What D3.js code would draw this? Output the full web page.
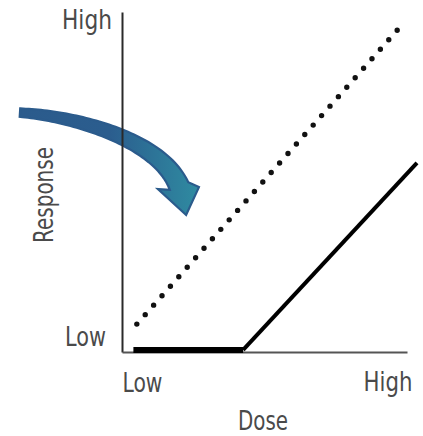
<!DOCTYPE html>
<html><head><meta charset="utf-8">
<script src="https://cdn.jsdelivr.net/npm/d3@7"></script>
<style>body{margin:0;background:#fff;overflow:hidden}</style>
</head><body><script>
// ---- data ----
const axisTickValues = [0, 1];
const xTickLabels = ["Low", "High"];
const yTickLabels = ["Low", "High"];
const xTitle = "Dose";
const yTitle = "Response";
// threshold model (solid): flat then rising
const thresholdDose = [0.04, 0.425, 1.035];
const thresholdResponse = [0.006, 0.006, 0.556];
// linear no-threshold model (dotted)
const linearDose = [0.052, 0.995];
const linearResponse = [0.082, 0.974];
const linearDotCount = 33;
// annotation arrow (data units): bezier control points and head
const arrowDose = [-0.358, -0.165, 0.133, 0.2];
const arrowResp = [0.704, 0.694, 0.624, 0.488];
const arrowHeadDose = [0.126, 0.225, 0.270];
const arrowHeadResp = [0.479, 0.403, 0.485];

// ---- layout ----
const W = 423, H = 436;
const svg = d3.select("body").append("svg").attr("width", W).attr("height", H);
const x = d3.scaleLinear().domain([0, 1]).range([122, 407]);
const y = d3.scaleLinear().domain([0, 1]).range([352, 12]);
const FONT = "'DejaVu Sans', sans-serif";
const TXT = "#4a4a4a";
const FS = 27;

// ---- arrow (drawn under axis) ----
const defs = svg.append("defs");
const grad = defs.append("linearGradient").attr("id", "ag")
  .attr("gradientUnits", "userSpaceOnUse")
  .attr("x1", x(arrowDose[0])).attr("y1", 0)
  .attr("x2", x(arrowHeadDose[2])).attr("y2", 0);
grad.append("stop").attr("offset", 0).attr("stop-color", "#2b5b8c");
grad.append("stop").attr("offset", 0.5).attr("stop-color", "#2b5d8e");
grad.append("stop").attr("offset", 1).attr("stop-color", "#2f8ba1");

const P = arrowDose.map((d, i) => [x(d), y(arrowResp[i])]);
function bez(t) {
  const u = 1 - t;
  const px = u*u*u*P[0][0] + 3*u*u*t*P[1][0] + 3*u*t*t*P[2][0] + t*t*t*P[3][0];
  const py = u*u*u*P[0][1] + 3*u*u*t*P[1][1] + 3*u*t*t*P[2][1] + t*t*t*P[3][1];
  const dx = 3*u*u*(P[1][0]-P[0][0]) + 6*u*t*(P[2][0]-P[1][0]) + 3*t*t*(P[3][0]-P[2][0]);
  const dy = 3*u*u*(P[1][1]-P[0][1]) + 6*u*t*(P[2][1]-P[1][1]) + 3*t*t*(P[3][1]-P[2][1]);
  const L = Math.hypot(dx, dy);
  return {px, py, nx: -dy / L, ny: dx / L};
}
const upper = [], lower = [];
const N = 60;
for (let i = 0; i <= N; i++) {
  const t = i / N;
  const b = bez(t);
  const hw = 4.2 + 5.8 * Math.pow(t, 1.1);
  lower.push([b.px + b.nx * hw, b.py + b.ny * hw]);
  upper.push([b.px - b.nx * hw, b.py - b.ny * hw]);
}
const head = arrowHeadDose.map((d, i) => [x(d), y(arrowHeadResp[i])]);
const outline = upper.concat([head[2], head[1], head[0]], lower.slice().reverse());
svg.append("path")
  .attr("d", d3.line()(outline) + "Z")
  .attr("fill", "url(#ag)")
  .attr("stroke", "#2b5b8c")
  .attr("stroke-width", 2.2)
  .attr("stroke-linejoin", "miter");

// ---- helper: fit a text to a width by horizontal scaling ----
function fit(textSel, ox, oy, width, rot) {
  textSel.attr("x", 0).attr("y", 0).attr("dy", null).attr("text-anchor", "start")
    .attr("font-family", FONT).attr("font-size", FS).attr("fill", TXT);
  const natural = textSel.node().getComputedTextLength();
  const sx = width / natural;
  textSel.attr("transform",
    `translate(${ox},${oy})${rot ? ` rotate(${rot})` : ""} scale(${sx},1)`);
}

// ---- axes ----
const yAxis = svg.append("g").attr("transform", `translate(${x(0)},0)`)
  .call(d3.axisLeft(y).tickValues(axisTickValues).tickSize(0).tickSizeOuter(0)
    .tickFormat((d, i) => yTickLabels[i]));
yAxis.select(".domain").attr("stroke", "#2a2a2a").attr("stroke-width", 2);
const xAxis = svg.append("g").attr("transform", `translate(0,${y(0)})`)
  .call(d3.axisBottom(x).tickValues(axisTickValues).tickSize(0).tickSizeOuter(0)
    .tickFormat((d, i) => xTickLabels[i]));
xAxis.select(".domain").attr("stroke", "#555").attr("stroke-width", 2);

const yLab = [{x: -57, y: -7, len: 41}, {x: -60, y: 16, len: 50}];
yAxis.selectAll(".tick text").each(function(d, i) {
  fit(d3.select(this), yLab[i].x, yLab[i].y, yLab[i].len);
});
const xLab = [{x: 0, y: 40, len: 40}, {x: -44, y: 39, len: 49}];
xAxis.selectAll(".tick text").each(function(d, i) {
  fit(d3.select(this), xLab[i].x, xLab[i].y, xLab[i].len);
});

// ---- titles ----
fit(svg.append("text").text(xTitle), 238, 429.5, 50);
fit(svg.append("text").text(yTitle), 53, 243, 96, -90);

// ---- series ----
const line = d3.line().x(d => x(d[0])).y(d => y(d[1]));
const thr = thresholdDose.map((d, i) => [d, thresholdResponse[i]]);
svg.append("path").attr("d", line(thr.slice(1)))
  .attr("fill", "none").attr("stroke", "#000").attr("stroke-width", 4);
svg.append("path").attr("d", line(thr.slice(0, 2)))
  .attr("fill", "none").attr("stroke", "#000").attr("stroke-width", 6);

const lin = linearDose.map((d, i) => [d, linearResponse[i]]);
const dotted = svg.append("path").attr("d", line(lin))
  .attr("fill", "none").attr("stroke", "#111").attr("stroke-width", 5.4)
  .attr("stroke-linecap", "round");
const len = dotted.node().getTotalLength();
dotted.attr("stroke-dasharray", `0,${len / (linearDotCount - 1)}`);
</script></body></html>
